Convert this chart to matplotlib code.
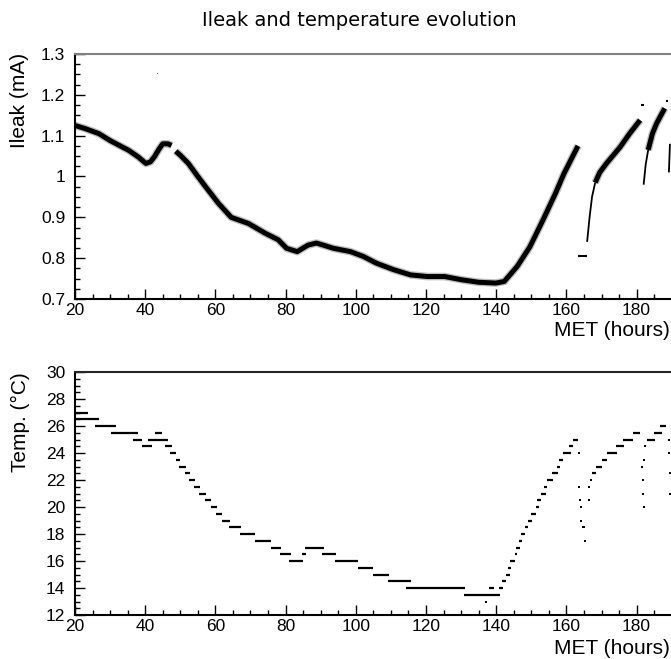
import numpy as np
import matplotlib
matplotlib.use("Agg")
from matplotlib import pyplot as plt
from matplotlib.ticker import MultipleLocator, FixedLocator, FuncFormatter

# Ileak (mA) band, one list per continuous piece
seg1_x = [20, 23, 26.8, 30, 35.3, 38, 40.2, 41.5, 42.6, 44, 45, 46.5, 47.5]
seg1_y = [1.125, 1.117, 1.105, 1.088, 1.064, 1.048, 1.032, 1.036, 1.048, 1.068, 1.08, 1.08, 1.076]
seg2_x = [48.7, 50, 52.3, 55, 57.2, 60.9, 64.5, 69.4, 74.2, 77.9, 80.3, 83.3, 86.4, 88.8,
          93.7, 98.5, 102.2, 105.8, 110.7, 115.6, 120.4, 125.3, 130.2, 135, 139.9, 142.3,
          146, 149.6, 153.3, 156.9, 159.3, 163.3]
seg2_y = [1.062, 1.052, 1.032, 1.0, 0.975, 0.934, 0.9, 0.885, 0.861, 0.845, 0.824, 0.816,
          0.832, 0.837, 0.824, 0.816, 0.804, 0.788, 0.772, 0.759, 0.755, 0.755, 0.747, 0.741,
          0.739, 0.743, 0.78, 0.828, 0.893, 0.959, 1.007, 1.075]
# steep, thin starts of the later pieces
rise3_x = [165.9, 166.6, 167.3, 168.2]
rise3_y = [0.84, 0.9, 0.95, 0.985]
seg3_x = [168.2, 169.5, 171.5, 175.3, 178, 181]
seg3_y = [0.985, 1.01, 1.033, 1.072, 1.105, 1.138]
rise4_x = [182, 182.6, 183.3]
rise4_y = [0.98, 1.03, 1.065]
seg4_x = [183.3, 184.5, 185.7, 188]
seg4_y = [1.065, 1.105, 1.13, 1.167]
rise5_x = [189.2, 189.5]
rise5_y = [1.01, 1.08]
dash_x0 = [163.3, 181.3, 188.3]
dash_x1 = [166.0, 182.0, 189.0]
dash_y = [0.805, 1.175, 1.185]
stray_x = [43.5]
stray_y = [1.25]

# Temperature (deg C) plateaus: start, end, value
t_x0 = [20.0, 20.0, 25.6, 30.2, 36.5, 39.0, 40.8, 42.9, 45.7, 47.1, 48.7, 49.7, 51.4, 52.6,
        53.9, 55.4, 57.0, 58.8, 60.2, 61.8, 63.9, 66.9, 71.2, 75.7, 78.5, 80.9, 84.6, 85.5,
        90.4, 94.0, 100.5, 104.9, 109.2, 114.3, 130.8, 138.0, 140.7, 141.7, 142.7, 143.3,
        143.8, 145.3, 145.7, 146.6, 147.2, 148.1, 149.0, 150.0, 151.4, 151.7, 152.9, 153.6,
        154.5, 155.9, 157.2, 157.9, 159.1, 160.8, 161.8,
        167.2, 168.4, 170.0, 171.5, 174.2, 176.1, 179.0, 183.0, 184.9, 186.7]
t_x1 = [23.8, 26.8, 31.7, 38.0, 39.2, 42.0, 46.5, 44.8, 47.5, 48.7, 49.9, 51.7, 52.7, 54.3,
        55.6, 57.2, 58.8, 60.5, 62.0, 64.1, 67.3, 71.4, 75.8, 78.7, 81.5, 84.9, 85.8, 90.9,
        94.3, 100.7, 105.0, 109.5, 115.6, 131.0, 141.1, 139.3, 141.9, 142.9, 143.8, 144.1,
        145.4, 145.8, 146.9, 147.4, 148.1, 149.0, 150.2, 151.4, 152.3, 152.9, 154.1, 154.5,
        156.3, 157.5, 158.1, 159.1, 161.2, 162.0, 163.2,
        168.4, 170.0, 171.7, 174.5, 176.4, 179.0, 181.0, 185.1, 187.3, 188.5]
t_val = [27.0, 26.5, 26.0, 25.5, 25.0, 24.5, 25.0, 25.5, 24.5, 24.0, 23.5, 23.0, 22.5, 22.0,
         21.5, 21.0, 20.5, 20.0, 19.5, 19.0, 18.5, 18.0, 17.5, 17.0, 16.5, 16.0, 16.5, 17.0,
         16.5, 16.0, 15.5, 15.0, 14.5, 14.0, 13.5, 14.0, 14.0, 14.5, 15.0, 15.5,
         16.0, 16.5, 17.0, 17.5, 18.0, 18.5, 19.0, 19.5, 20.0, 20.5, 21.0, 21.5,
         22.0, 22.5, 23.0, 23.5, 24.0, 24.5, 25.0,
         22.5, 23.0, 23.5, 24.0, 24.5, 25.0, 25.5, 25.0, 25.5, 26.0]
# single readings during the fast drops
drop_x = [137.2, 163.6, 163.6, 163.8, 164.1, 164.3, 164.6, 165.0, 165.4, 166.3, 166.5, 167.0,
          181.6, 181.7, 181.9, 182.0, 182.2, 182.4, 189.3, 189.3, 189.4, 189.5]
drop_t = [13.0, 24.0, 21.5, 20.5, 20.0, 19.0, 18.5, 18.5, 17.5, 20.5, 21.5, 22.0,
          23.0, 22.0, 21.0, 20.0, 23.5, 24.5, 25.0, 24.0, 22.5, 21.0]
x_ticks = [20, 40, 60, 80, 100, 120, 140, 160, 180]

W, H = 671, 659
fig = plt.figure(figsize=(W / 100, H / 100), dpi=100)
plt.rcParams['font.family'] = ['Liberation Sans', 'DejaVu Sans']

ppu = 3.51  # px per hour
left = 75 / W
width = 180 * ppu / W
ax1 = fig.add_axes([left, 1 - 299 / H, width, 245 / H])
ax2 = fig.add_axes([left, 1 - 615 / H, width, 243 / H])


def style(ax, topcol):
    ax.set_xlim(20, 200)
    ax.xaxis.set_major_locator(FixedLocator(x_ticks))
    ax.xaxis.set_minor_locator(MultipleLocator(5))
    ax.tick_params(which='both', direction='in', top=False, right=False, labelsize=12.5)
    ax.tick_params(which='major', length=7, width=1)
    ax.tick_params(which='minor', length=3.5, width=1)
    ax.tick_params(axis='x', pad=3)
    ax.tick_params(axis='y', pad=7)
    for s in ['left', 'bottom']:
        ax.spines[s].set_linewidth(1.5)
    ax.spines['top'].set_color(topcol)
    ax.spines['top'].set_linewidth(1.5)
    ax.spines['right'].set_visible(False)


style(ax1, '0.5')
ax1.set_ylim(0.7, 1.3)
ax1.yaxis.set_major_locator(MultipleLocator(0.1))
ax1.yaxis.set_minor_locator(MultipleLocator(0.025))
ax1.yaxis.set_major_formatter(FuncFormatter(lambda v, p: '%g' % round(v, 2)))
for sx, sy in [(seg1_x, seg1_y), (seg2_x, seg2_y), (seg3_x, seg3_y), (seg4_x, seg4_y)]:
    ax1.plot(sx, sy, color='0.45', lw=5.5, alpha=0.45, solid_capstyle='butt')
    ax1.plot(sx, sy, color='black', lw=3.6, solid_capstyle='butt')
for sx, sy in [(rise3_x, rise3_y), (rise4_x, rise4_y), (rise5_x, rise5_y)]:
    ax1.plot(sx, sy, color='black', lw=1.3, solid_capstyle='butt')
ax1.hlines(dash_y, dash_x0, dash_x1, color='black', lw=1.5)
ax1.plot(stray_x, stray_y, ',', color='0.4')

style(ax2, '0.15')
ax2.set_ylim(12, 30)
ax2.yaxis.set_major_locator(MultipleLocator(2))
ax2.yaxis.set_minor_locator(MultipleLocator(0.5))
ax2.hlines(t_val, t_x0, t_x1, color='black', lw=1.6)
ax2.plot(drop_x, drop_t, 's', color='black', ms=1.6, mew=0)

fig.text(0.536, 1 - 21 / H, 'Ileak and temperature evolution', ha='center', va='center',
         fontsize=14, family='DejaVu Sans')
fig.text(20 / W, 1 - 53 / H, 'Ileak (mA)', rotation=90, ha='center', va='top', fontsize=15)
fig.text(20 / W, 1 - 372 / H, 'Temp. (°C)', rotation=90, ha='center', va='top', fontsize=15)
fig.text(670 / W, 1 - 331 / H, 'MET (hours)', ha='right', va='center', fontsize=15)
fig.text(670 / W, 1 - 648 / H, 'MET (hours)', ha='right', va='center', fontsize=15)

fig.savefig('out.png', dpi=100)
